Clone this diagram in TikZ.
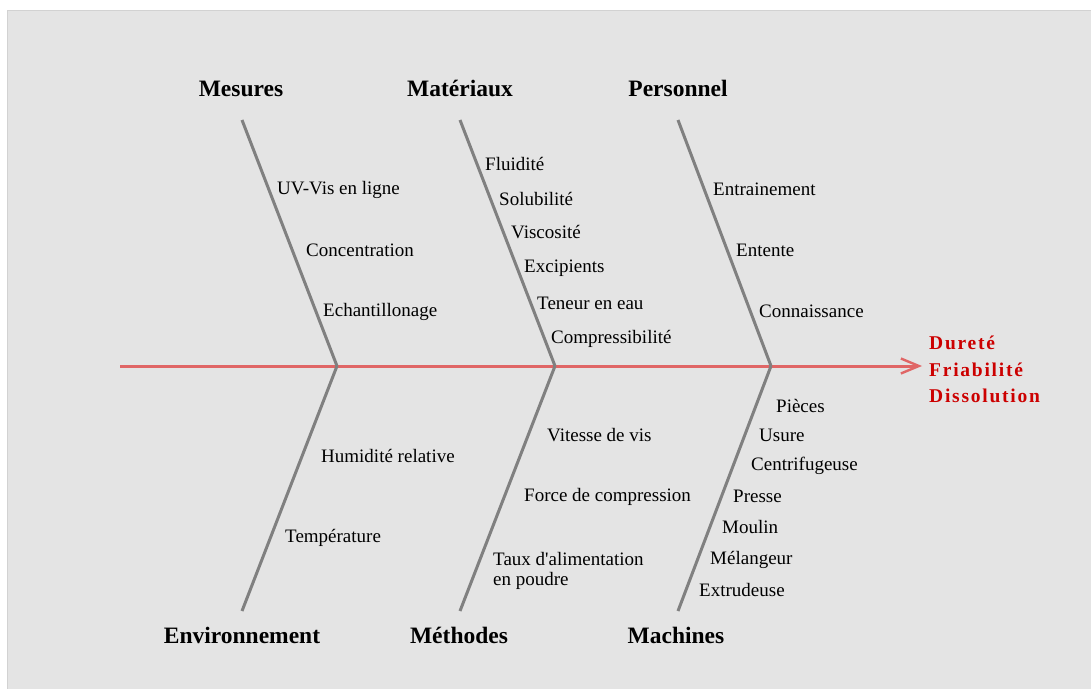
\documentclass[tikz,border=0pt]{standalone}
\usepackage{fontspec}
\setmainfont{Liberation Serif}
\usetikzlibrary{arrows.meta}
\definecolor{bggray}{HTML}{E4E4E4}
\definecolor{bgedge}{HTML}{D2D2D2}
\definecolor{bonegray}{HTML}{808080}
\definecolor{spinered}{HTML}{E06666}
\definecolor{effectred}{HTML}{CC0000}
\newcommand{\straightquote}{{\addfontfeature{Ligatures=TeXOff}'}}
\tikzset{
  bone/.style={draw=bonegray, line width=3pt},
  spine/.style={draw=spinered, line width=3pt, -{Straight Barb[length=18pt,width=15pt,line width=2.4pt]}},
  cat/.style={font=\fontsize{23.5}{26}\selectfont\bfseries, inner sep=0pt, anchor=center},
  cause/.style={font=\fontsize{19}{22}\selectfont, inner sep=0pt, anchor=west, yshift=-1.5pt},
  effect/.style={font=\fontsize{19.5}{22}\selectfont\bfseries\addfontfeature{LetterSpace=9}, text=effectred, inner sep=0pt, anchor=west}
}
\begin{document}
\begin{tikzpicture}[x=1pt, y=-1pt]
\useasboundingbox (0,0) rectangle (1091,688);
\fill[white] (0,0) rectangle (1091,688);
\draw[fill=bggray, draw=bgedge, line width=1pt] (7.5,10.5) rectangle (1092,689);

% spine and head
\coordinate (tail) at (120,366);
\coordinate (head) at (922,366);
\coordinate (jA) at (337,366);
\coordinate (jB) at (555,366);
\coordinate (jC) at (771,366);
\draw[spine] (tail) -- (head);

% upper bones
\coordinate (tA) at (242,120);
\coordinate (tB) at (460,120);
\coordinate (tC) at (678,120);
\draw[bone] (tA) -- (jA);
\draw[bone] (tB) -- (jB);
\draw[bone] (tC) -- (jC);
% lower bones
\coordinate (bA) at (242,611);
\coordinate (bB) at (460,611);
\coordinate (bC) at (678,611);
\draw[bone] (jA) -- (bA);
\draw[bone] (jB) -- (bB);
\draw[bone] (jC) -- (bC);

% categories
\node[cat] (mes) at (241,88.5) {Mesures};
\node[cat] (mat) at (460,88.5) {Matériaux};
\node[cat] (per) at (678,88.5) {Personnel};
\node[cat] (env) at (242,635) {Environnement};
\node[cat] (met) at (459,635) {Méthodes};
\node[cat] (mac) at (676,635) {Machines};

% effect
\node[effect] (e1) at (929,343) {Dureté};
\node[effect] (e2) at (929,370) {Friabilité};
\node[effect] (e3) at (929,396) {Dissolution};

% causes: Mesures
\node[cause] (c1) at (277,188) {UV-Vis en ligne};
\node[cause] (c2) at (306,249) {Concentration};
\node[cause] (c3) at (323,310) {Echantillonage};
% causes: Matériaux
\node[cause] (c4) at (485,162) {Fluidité};
\node[cause] (c5) at (499,197) {Solubilité};
\node[cause] (c6) at (511,231) {Viscosité};
\node[cause] (c7) at (524,267) {Excipients};
\node[cause] (c8) at (537,302) {Teneur en eau};
\node[cause] (c9) at (551,337) {Compressibilité};
% causes: Personnel
\node[cause] (c10) at (713,188) {Entrainement};
\node[cause] (c11) at (736,249) {Entente};
\node[cause] (c12) at (759,310) {Connaissance};
% causes: Environnement
\node[cause] (c13) at (321,454) {Humidité relative};
\node[cause] (c14) at (285,536) {Température};
% causes: Méthodes
\node[cause] (c15) at (547,434) {Vitesse de vis};
\node[cause] (c16) at (524,495) {Force de compression};
\node[cause] (c17) at (493,557) {Taux d\straightquote alimentation};
\node[cause] (c18) at (493,579) {en poudre};
% causes: Machines
\node[cause] (c19) at (776,404) {Pièces};
\node[cause] (c20) at (759,434) {Usure};
\node[cause] (c21) at (751,464) {Centrifugeuse};
\node[cause] (c22) at (733,495) {Presse};
\node[cause] (c23) at (722,525) {Moulin};
\node[cause] (c24) at (710,558) {Mélangeur};
\node[cause] (c25) at (699,588) {Extrudeuse};
\end{tikzpicture}
\end{document}
